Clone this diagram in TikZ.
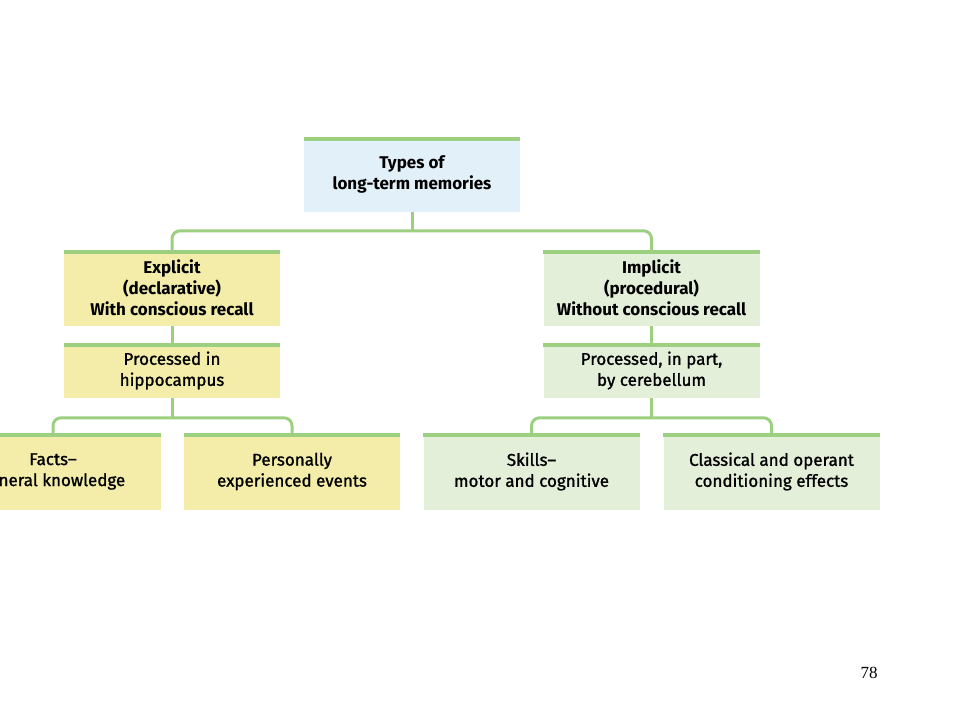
\documentclass[tikz,border=0pt]{standalone}
\usepackage{fontspec}
\setmainfont{Fira Sans}
\newfontfamily\heavyfont[FakeBold=1.2, Ligatures=TeX]{Fira Sans}
\newfontfamily\pagefont{Liberation Serif}
\usepackage{tikz}
\tikzset{>=latex}
\definecolor{barleaf}{HTML}{9DCF80}
\definecolor{skyfill}{HTML}{E2F0FA}
\definecolor{strawfill}{HTML}{F3EDA9}
\definecolor{mintfill}{HTML}{E4EFDA}
\tikzset{
    memory/.style={minimum width=216pt, inner sep=0pt, align=center, font=\heavyfont\fontsize{17}{21}\selectfont},
    heading/.style={font=\bfseries\fontsize{17}{21}\selectfont},
    link/.style={line width=3pt, barleaf, rounded corners=8pt},
    bar/.style={line width=4pt, barleaf},
}

\begin{document}
\begin{tikzpicture}[x=1pt, y=-1pt]
            \useasboundingbox (0, 0) rectangle (960, 720);
            \clip (0, 0) rectangle (960, 720);
            \node[memory, heading, fill=skyfill, minimum height=75pt] (types) at (412, 174.5) {Types of\\long-term memories};
            \node[memory, heading, fill=strawfill, minimum height=76pt] (explicit) at (172, 288) {Explicit\\(declarative)\\With conscious recall};
            \node[memory, heading, fill=mintfill, minimum height=76pt] (implicit) at (651.5, 288) {Implicit\\(procedural)\\Without conscious recall};
            \node[memory, fill=strawfill, minimum height=55pt] (hippo) at (172, 370.5) {Processed in\\hippocampus};
            \node[memory, fill=mintfill, minimum height=55pt] (cerebellum) at (651.5, 370.5) {Processed, in part,\\by cerebellum};
            \node[memory, fill=strawfill, minimum height=77pt] (facts) at (53, 471.5) {Facts–\\general knowledge};
            \node[memory, fill=strawfill, minimum height=77pt] (events) at (292, 471.5) {Personally\\experienced events};
            \node[memory, fill=mintfill, minimum height=77pt] (skills) at (531.5, 471.5) {Skills–\\motor and cognitive};
            \node[memory, fill=mintfill, minimum height=77pt] (conditioning) at (771.5, 471.5) {Classical and operant\\conditioning effects};
            \foreach \n in {types, explicit, implicit, hippo, cerebellum, facts, events, skills, conditioning}
                \draw[bar] ([yshift=-2pt]\n.north west) -- ([yshift=-2pt]\n.north east);
            \draw[link] (types.south) -- ++(0, 19);
            \draw[link] (explicit.north) -- ++(0, -19) -| (implicit.north);
            \draw[link] (explicit.south) -- (hippo.north);
            \draw[link] (implicit.south) -- (cerebellum.north);
            \draw[link] (hippo.south) -- ++(0, 20);
            \draw[link] (facts.north) -- ++(0, -15) -| (events.north);
            \draw[link] (cerebellum.south) -- ++(0, 20);
            \draw[link] (skills.north) -- ++(0, -15) -| (conditioning.north);
            \node[font=\pagefont\fontsize{17}{20}\selectfont] (page) at (869, 673) {78};
        \end{tikzpicture}
\end{document}
